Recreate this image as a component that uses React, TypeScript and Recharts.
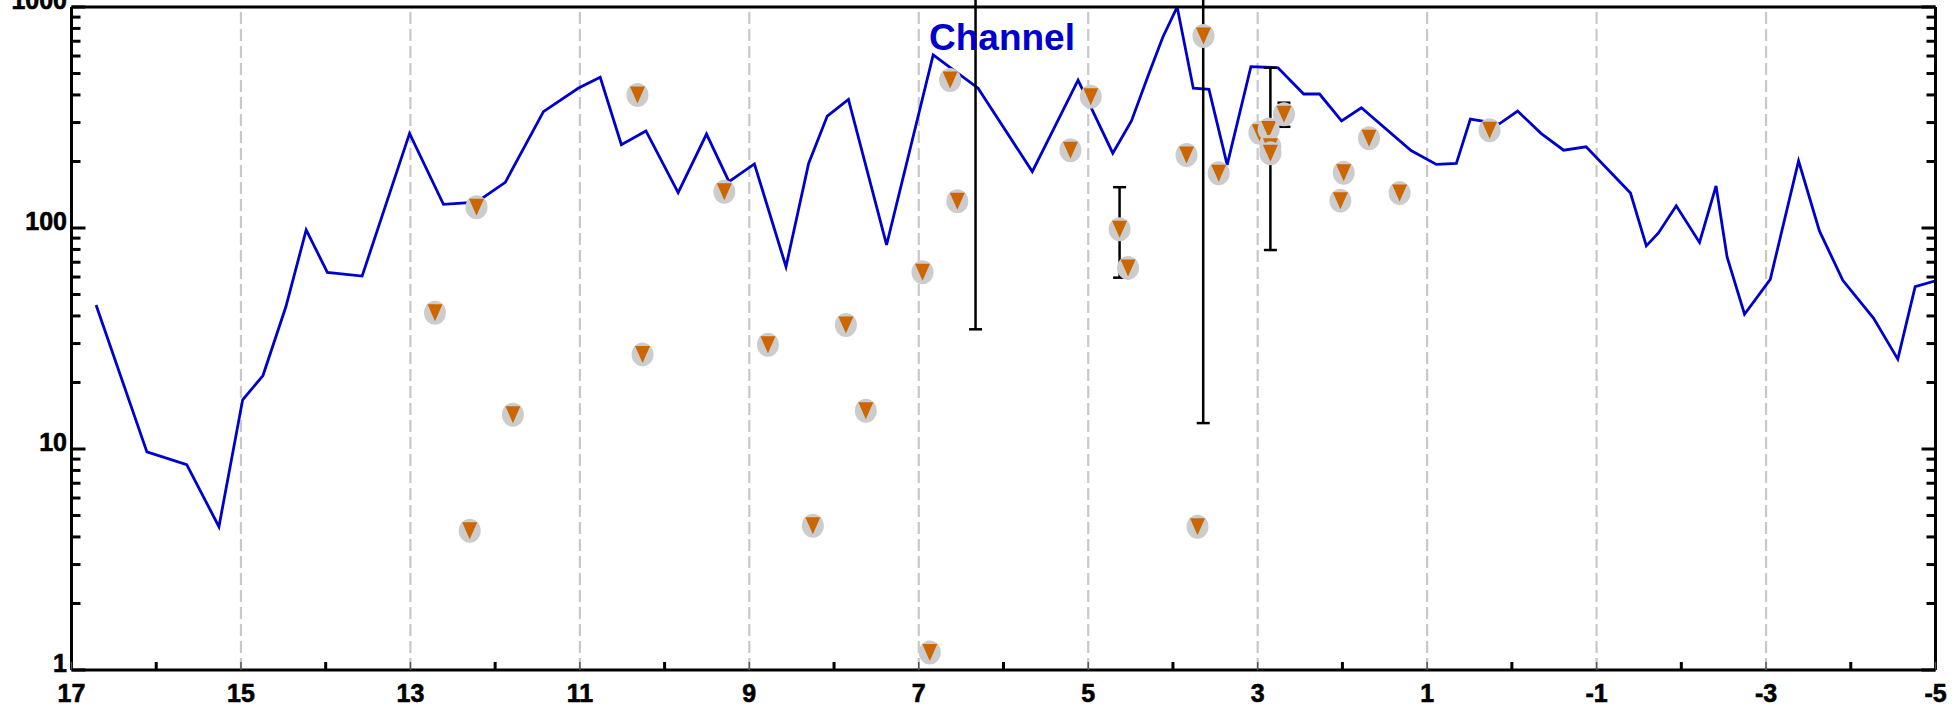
import React from 'react';
import {
  ComposedChart,
  Line,
  Scatter,
  XAxis,
  YAxis,
  ReferenceLine,
  ErrorBar,
} from 'recharts';

// channel trace
const lineX = [
  16.71, 16.11, 15.64, 15.26, 14.98, 14.74, 14.47, 14.23, 13.98, 13.57,
  13.01, 12.61, 12.22, 11.88, 11.43, 11.02, 10.76, 10.51, 10.22, 9.84,
  9.505, 9.24, 8.94, 8.567, 8.3, 8.08, 7.83, 7.38, 6.83, 6.3,
  5.66, 5.12, 4.71, 4.49, 4.29, 4.12, 3.95, 3.76, 3.575, 3.36,
  3.08, 2.76, 2.457, 2.27, 2.01, 1.776, 1.19, 0.891, 0.655, 0.49,
  0.148, -0.068, -0.344, -0.611, -0.876, -1.4, -1.587, -1.73, -1.94, -2.215,
  -2.41, -2.54, -2.746, -3.05, -3.384, -3.63, -3.906, -4.27, -4.555, -4.76,
  -4.99, -5.15,
];
const lineY = [
  44.8, 9.7, 8.5, 4.45, 16.7, 21.5, 44, 98, 63, 60.6,
  268, 128, 131, 161, 336, 429, 481, 238, 275, 144.5,
  266, 162, 195, 66.8, 196, 321, 382, 83.8, 607, 429,
  180, 467, 218, 305, 492, 730, 1000, 429, 424, 193,
  537, 531, 404, 404, 305, 350, 224, 194, 196, 311,
  296, 338, 268, 225, 233, 144, 83, 95, 126, 86,
  155, 74, 40.7, 58.6, 201, 97, 58, 39, 25.5, 54.3,
  57.5, 66.4,
];

// triangle markers
const markerX = [
  12.22, 10.32, 12.71, 11.79, 10.26, 12.3, 9.295, 6.63, 6.545, 5.21,
  4.97, 4.63, 3.84, 3.64, 3.46, 8.78, 7.86, 7.625, 6.956, 4.53,
  8.25, 6.87, 3.71, 2.98, 2.87, 2.85, 2.85, 2.69, 1.985, 2.024,
  1.686, 1.325, 0.263,
];
const markerY = [
  124, 400, 41.4, 14.3, 26.8, 4.27, 146, 467, 132, 225,
  393, 98.7, 214, 739, 177, 29.6, 36.4, 14.9, 63, 66,
  4.49, 1.2, 4.45, 270, 279, 233, 218, 327, 178, 133,
  255, 144, 277,
];

// error bars
const errX = [6.33, 4.63, 3.643, 2.85, 2.69];
const errY = [1100, 98.7, 739, 227, 327];
const errLow = [34.8, 59.6, 13.1, 79.5, 287];
const errHigh = [5000, 153, 5000, 531, 369];

const xTicks = [17, 16, 15, 14, 13, 12, 11, 10, 9, 8, 7, 6, 5, 4, 3, 2, 1, 0, -1, -2, -3, -4, -5];
const xLabels = [17, 15, 13, 11, 9, 7, 5, 3, 1, -1, -3, -5];
const gridX = [15, 13, 11, 9, 7, 5, 3, 1, -1, -3];
const yTicks = [
  1, 2, 3, 4, 5, 6, 7, 8, 9,
  10, 20, 30, 40, 50, 60, 70, 80, 90,
  100, 200, 300, 400, 500, 600, 700, 800, 900, 1000,
];
const yLabels = [1, 10, 100, 1000];

const W = 1955;
const H = 716;
const PLOT_LEFT = 71.5;
const PLOT_RIGHT = 1935.5;
const PLOT_TOP = 7;
const PLOT_BOTTOM = 670;

const BLUE = '#0000CC';
const FONT = '"Liberation Sans", Arial, Helvetica, sans-serif';
const LABEL_SIZE = 25;

const lineData = lineX.map((x, i) => ({ x, y: lineY[i] }));
const markerData = markerX.map((x, i) => ({ x, y: markerY[i] }));
const errData = errX.map((x, i) => ({
  x,
  y: errY[i],
  err: [errY[i] - errLow[i], errHigh[i] - errY[i]],
}));

const labelStyle = {
  fontFamily: FONT,
  fontWeight: 'bold' as const,
  fontSize: LABEL_SIZE,
  fill: '#000',
  stroke: '#000',
  strokeWidth: 0.6,
};

const BottomTick = (props: any) => {
  const { x, payload } = props;
  const labeled = xLabels.includes(payload.value);
  return (
    <g>
      <line
        x1={x}
        x2={x}
        y1={PLOT_BOTTOM}
        y2={PLOT_BOTTOM - 8}
        stroke={labeled ? '#555' : '#000'}
        strokeWidth={labeled ? 1.5 : 3}
      />
      {labeled && (
        <text x={x} y={702} textAnchor="middle" style={labelStyle}>
          {payload.value}
        </text>
      )}
    </g>
  );
};

const TopTick = (props: any) => {
  const { x, payload } = props;
  const labeled = xLabels.includes(payload.value);
  return (
    <line
      x1={x}
      x2={x}
      y1={PLOT_TOP}
      y2={PLOT_TOP + 8}
      stroke={labeled ? '#555' : '#000'}
      strokeWidth={labeled ? 1.5 : 3}
    />
  );
};

const LeftTick = (props: any) => {
  const { y, payload } = props;
  const major = yLabels.includes(payload.value);
  return (
    <g>
      <line x1={PLOT_LEFT} x2={PLOT_LEFT + (major ? 14 : 9)} y1={y} y2={y} stroke="#000" strokeWidth={3} />
      {major && (
        <text x={67} y={y + 2} textAnchor="end" style={labelStyle}>
          {payload.value}
        </text>
      )}
    </g>
  );
};

const RightTick = (props: any) => {
  const { y, payload } = props;
  const major = yLabels.includes(payload.value);
  return <line x1={PLOT_RIGHT} x2={PLOT_RIGHT - (major ? 14 : 9)} y1={y} y2={y} stroke="#000" strokeWidth={3} />;
};

const MarkerShape = (props: any) => {
  const { cx, cy } = props;
  return (
    <g>
      <ellipse cx={cx} cy={cy} rx={11} ry={12} fill="#cccccc" />
      <polygon points={`${cx - 7.5},${cy - 8.5} ${cx + 7.5},${cy - 8.5} ${cx},${cy + 8.5}`} fill="#CC6600" />
    </g>
  );
};

const NoShape = () => <g />;

export default function App() {
  return (
    <div style={{ position: 'absolute', left: 0, top: 0, width: W, height: H, background: '#fff' }}>
      <ComposedChart width={W} height={H} margin={{ top: 0, right: 0, bottom: 0, left: 0 }}>
        <XAxis
          xAxisId="b"
          dataKey="x"
          type="number"
          domain={[-5, 17]}
          reversed
          allowDataOverflow
          ticks={xTicks}
          interval={0}
          tick={<BottomTick />}
          tickLine={false}
          axisLine={{ stroke: '#000', strokeWidth: 3 }}
          height={H - PLOT_BOTTOM}
        />
        <XAxis
          xAxisId="t"
          orientation="top"
          type="number"
          domain={[-5, 17]}
          reversed
          allowDataOverflow
          ticks={xTicks}
          interval={0}
          tick={<TopTick />}
          tickLine={false}
          axisLine={{ stroke: '#000', strokeWidth: 3 }}
          height={PLOT_TOP}
        />
        <YAxis
          yAxisId="l"
          type="number"
          scale="log"
          domain={[1, 1000]}
          allowDataOverflow
          ticks={yTicks}
          interval={0}
          tick={<LeftTick />}
          tickLine={false}
          axisLine={{ stroke: '#000', strokeWidth: 3 }}
          width={PLOT_LEFT}
        />
        <YAxis
          yAxisId="r"
          orientation="right"
          type="number"
          scale="log"
          domain={[1, 1000]}
          allowDataOverflow
          ticks={yTicks}
          interval={0}
          tick={<RightTick />}
          tickLine={false}
          axisLine={{ stroke: '#000', strokeWidth: 3 }}
          width={W - PLOT_RIGHT}
        />
        {gridX.map((g) => (
          <ReferenceLine
            key={`grid-${g}`}
            x={g}
            xAxisId="b"
            yAxisId="l"
            stroke="#c8c8c8"
            strokeWidth={2.2}
            strokeDasharray="12 5"
          />
        ))}
        <Line
          xAxisId="b"
          yAxisId="l"
          data={lineData}
          dataKey="y"
          type="linear"
          stroke={BLUE}
          strokeWidth={2.8}
          dot={false}
          activeDot={false}
          isAnimationActive={false}
        />
        <Scatter
          xAxisId="b"
          yAxisId="l"
          data={errData}
          dataKey="y"
          shape={<NoShape />}
          isAnimationActive={false}
        >
          <ErrorBar dataKey="err" direction="y" width={6.5} stroke="#000" strokeWidth={2.5} />
        </Scatter>
        <Scatter
          xAxisId="b"
          yAxisId="l"
          data={markerData}
          dataKey="y"
          shape={<MarkerShape />}
          isAnimationActive={false}
        />
      </ComposedChart>
      <svg
        width={W}
        height={H}
        style={{ position: 'absolute', left: 0, top: 0, pointerEvents: 'none' }}
      >
        <text x={929} y={50} fontFamily={FONT} fontWeight="bold" fontSize={37} fill={BLUE}>
          Channel
        </text>
      </svg>
    </div>
  );
}
